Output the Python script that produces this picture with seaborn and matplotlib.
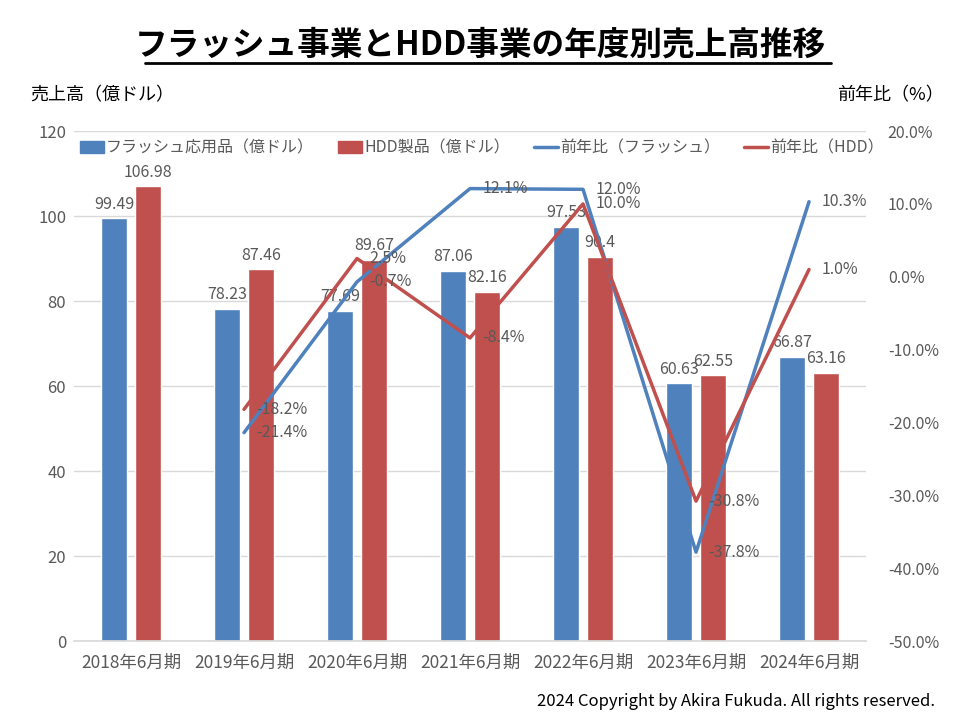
import numpy as np
import pandas as pd
import matplotlib
matplotlib.use("Agg")
import matplotlib.pyplot as plt
from matplotlib.patches import Patch
from matplotlib.lines import Line2D
import seaborn as sns

# data
periods = ["2018年6月期", "2019年6月期", "2020年6月期", "2021年6月期",
           "2022年6月期", "2023年6月期", "2024年6月期"]
flash_sales = [99.49, 78.23, 77.69, 87.06, 97.53, 60.63, 66.87]
hdd_sales = [106.98, 87.46, 89.67, 82.16, 90.4, 62.55, 63.16]
flash_yoy = [np.nan, -21.4, -0.7, 12.1, 12.0, -37.8, 10.3]
hdd_yoy = [np.nan, -18.2, 2.5, -8.4, 10.0, -30.8, 1.0]

flash_name = "フラッシュ応用品（億ドル）"
hdd_name = "HDD製品（億ドル）"
flash_yoy_name = "前年比（フラッシュ）"
hdd_yoy_name = "前年比（HDD）"

blue = "#4F81BD"
red = "#C0504D"
grey_txt = "#595959"

sns.set_theme(style="white")
plt.rcParams['font.family'] = ['Noto Sans CJK JP', 'DejaVu Sans']

bars = pd.DataFrame({
    "period": periods * 2,
    "sales": flash_sales + hdd_sales,
    "kind": [flash_name] * len(periods) + [hdd_name] * len(periods),
})
lines = pd.DataFrame({
    "pos": list(range(len(periods))) * 2,
    "yoy": flash_yoy + hdd_yoy,
    "kind": [flash_yoy_name] * len(periods) + [hdd_yoy_name] * len(periods),
}).dropna()

fig = plt.figure(figsize=(9.6, 7.2), dpi=100)
ax = fig.add_axes([0.0776, 0.1097, 0.824, 0.7083])

sns.barplot(data=bars, x="period", y="sales", hue="kind", order=periods,
            hue_order=[flash_name, hdd_name], palette=[blue, red],
            width=0.593, gap=0.22, saturation=1, ax=ax, legend=False)

for cont, vals in zip(ax.containers, [flash_sales, hdd_sales]):
    ax.bar_label(cont, labels=[f"{v:g}" for v in vals], padding=4,
                 fontsize=11.5, color=grey_txt)

ax.set_ylim(0, 120)
ax.set_yticks(range(0, 121, 20))
ax.set_xlim(-0.5, len(periods) - 0.5)
ax.set_xlabel("")
ax.set_ylabel("")
ax.yaxis.grid(True, color="#D9D9D9", linewidth=1)
ax.set_axisbelow(True)
for s in ["top", "left", "right"]:
    ax.spines[s].set_visible(False)
ax.spines["bottom"].set_color("#D9D9D9")
ax.tick_params(axis="both", length=0, colors=grey_txt)
ax.tick_params(axis="x", pad=9, labelsize=12.5)
ax.tick_params(axis="y", pad=6, labelsize=12)

ax2 = ax.twinx()
sns.lineplot(data=lines, x="pos", y="yoy", hue="kind",
             hue_order=[flash_yoy_name, hdd_yoy_name], palette=[blue, red],
             linewidth=2.5, ax=ax2, legend=False)
ax2.set_ylim(-50, 20)
ax2.set_yticks(range(-50, 21, 10))
ax2.set_yticklabels([f"{v:.1f}%" for v in range(-50, 21, 10)])
ax2.set_xlim(-0.5, len(periods) - 0.5)
ax2.set_ylabel("")
ax2.set_xlabel("")
for s in ax2.spines.values():
    s.set_visible(False)
ax2.tick_params(axis="y", length=0, labelsize=11.5, colors=grey_txt, pad=16)

for vals in [flash_yoy, hdd_yoy]:
    for i, v in enumerate(vals):
        if np.isnan(v):
            continue
        ax2.annotate(f"{v:.1f}%", (i, v), xytext=(9, 0), textcoords="offset points",
                     ha="left", va="center", fontsize=11.5, color=grey_txt)

handles = [Patch(color=blue), Patch(color=red),
           Line2D([], [], color=blue, linewidth=2.5),
           Line2D([], [], color=red, linewidth=2.5)]
fig.legend(handles, [flash_name, hdd_name, flash_yoy_name, hdd_yoy_name],
           ncol=4, loc="center", bbox_to_anchor=(0.502, 0.794), frameon=False,
           fontsize=11.5, labelcolor=grey_txt, handlelength=1.5, handleheight=0.8,
           handletextpad=0.15, columnspacing=1.5)

fig.text(0.5, 0.937, "フラッシュ事業とHDD事業の年度別売上高推移", ha="center",
         va="center", fontsize=23.5, fontweight="bold", color="black")
fig.add_artist(Line2D([0.151, 0.866], [0.912, 0.912], color="black", linewidth=2))

fig.text(30 / 960, 1 - 95 / 720, "売上高（億ドル）", ha="left", va="center",
         fontsize=13, color="black")
fig.text(944 / 960, 1 - 95 / 720, "前年比（%）", ha="right", va="center",
         fontsize=13, color="black")
fig.text(935 / 960, 1 - 702 / 720, "2024 Copyright by Akira Fukuda. All rights reserved.",
         ha="right", va="center", fontsize=12, color="black")

fig.savefig("out.png", dpi=100)
